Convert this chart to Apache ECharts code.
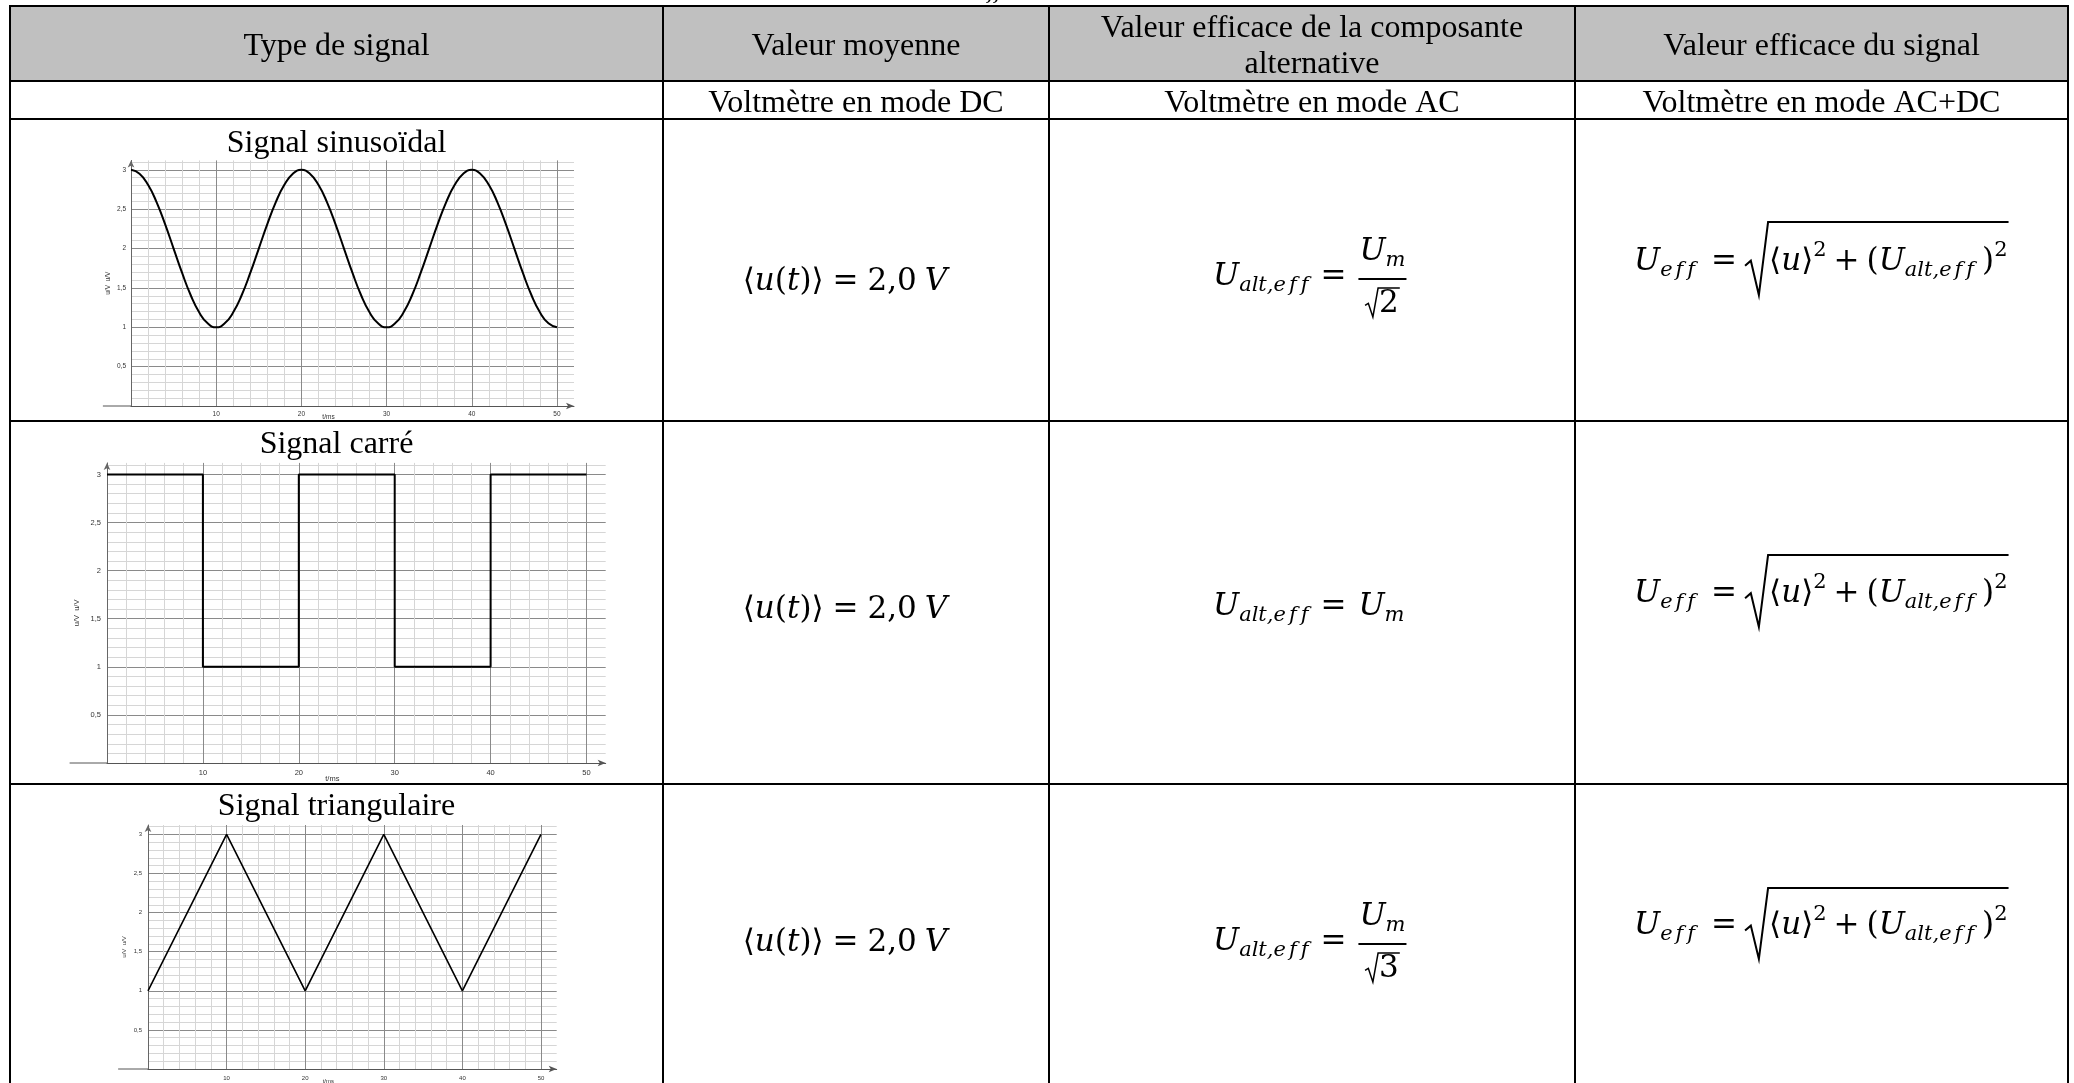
<!DOCTYPE html>
<html><head><meta charset="utf-8">
<script src="https://cdn.jsdelivr.net/npm/echarts@6/dist/echarts.min.js"></script>
<style>html,body{margin:0;padding:0;background:#fff;overflow:hidden}#c{width:2074px;height:1083px}</style>
</head><body><div id="c"></div>
<script>
// ---------- DATA ----------
const headers = ['Type de signal', 'Valeur moyenne', 'Valeur efficace de la composante\nalternative', 'Valeur efficace du signal'];
const modes = ['', 'Voltmètre en mode DC', 'Voltmètre en mode AC', 'Voltmètre en mode AC+DC'];
const titles = ['Signal sinusoïdal', 'Signal carré', 'Signal triangulaire'];
const xName = 't/ms';
const yName = 'u/V  u/V';

const sineT = [0,1,2,3,4,5,6,7,8,9,10,11,12,13,14,15,16,17,18,19,20,21,22,23,24,25,26,27,28,29,30,31,32,33,34,35,36,37,38,39,40,41,42,43,44,45,46,47,48,49,50];
const sineU = [3.00,2.95,2.81,2.59,2.31,2.00,1.69,1.41,1.19,1.05,1.00,1.05,1.19,1.41,1.69,2.00,2.31,2.59,2.81,2.95,
               3.00,2.95,2.81,2.59,2.31,2.00,1.69,1.41,1.19,1.05,1.00,1.05,1.19,1.41,1.69,2.00,2.31,2.59,2.81,2.95,
               3.00,2.95,2.81,2.59,2.31,2.00,1.69,1.41,1.19,1.05,1.00];
const squareT = [0,10,20,30,40,50];
const squareU = [3,1,3,1,3,3];
const triT = [0,10,20,30,40,50];
const triU = [1,3,1,3,1,3];

const xRange = [0, 52];
const yRange = [0, 3.12];

// ---------- LAYOUT ----------
const colX = [10, 663, 1049, 1575, 2068];
const rowY = [6, 81, 119, 421, 784];
const grids = [
  {left:131, top:160.4, width:443, height:245.6, fs:6.5, yGap:19, xGap:8, lm:5, ext:-3.3},
  {left:107, top:462.9, width:498.7, height:300.1, fs:7.5, yGap:26, xGap:12, lm:6, ext:-3.9},
  {left:148, top:825, width:408.7, height:244, fs:6, yGap:21, xGap:9, lm:6, ext:-3.8}
];
const titleY = [144, 445, 807];

const serif = 'Liberation Serif';
const FF = 'DejaVu Serif';
const M = 31, S = 21;

const mctx = document.createElement('canvas').getContext('2d');
function tw(t, size, it){ mctx.font = (it?'italic ':'') + size + 'px "' + FF + '"'; return mctx.measureText(t).width; }
function I(t){ return {t, i:true}; }
function R(t){ return {t}; }
function sub(t){ return {t, s:S, i:true, dy:9}; }
function sup(t){ return {t, s:S, dy:-11}; }
function runWidth(items){ let x=0; for (const it of items){ if (typeof it==='number') x+=it; else x+=tw(it.t, it.s||M, it.i);} return x; }
function run(items, x, y, out){
  for (const it of items){
    if (typeof it === 'number'){ x += it; continue; }
    const size = it.s || M;
    out.push({type:'text', z:60, x:x, y:y+(it.dy||0), style:{text:it.t, fontSize:size, fontFamily:FF, fontStyle:it.i?'italic':'normal', fill:'#000', align:'left', verticalAlign:'middle'}});
    x += tw(it.t, size, it.i);
  }
  return x;
}
function radical(x, yTop, yBot, wRad, wContent, out, lw){
  const h = yBot - yTop;
  const pts = [[x, yTop+h*0.60],[x+wRad*0.25, yTop+h*0.53],[x+wRad*0.6, yBot],[x+wRad, yTop],[x+wRad+wContent, yTop]];
  out.push({type:'polyline', z:60, shape:{points:pts}, style:{stroke:'#000', lineWidth:lw, fill:null}});
  return x + wRad;
}
const altEff = [sub('alt,e'), 3, sub('f'), 4, sub('f')];
const eff = [sub('e'), 3, sub('f'), 4, sub('f')];

function col2Formula(y, out){
  const items = [R('⟨'), I('u'), R('('), I('t'), R(')'), R('⟩'), 9, R('='), 9, R('2,0'), 8, I('V')];
  const wd = runWidth(items);
  run(items, 845 - wd/2, y, out);
}
function col3Fraction(y, den, out){
  let x = run([I('U')].concat(altEff, [12, R('='), 12]), 1213, y, out);
  const num = [I('U'), sub('m')];
  const wn = runWidth(num);
  const wDigit = tw(den, M, false);
  const wRad = 13;
  const wd = wRad + wDigit + 2;
  const fw = Math.max(wn, wd) + 2;
  const bar = y + 2;
  out.push({type:'line', z:60, shape:{x1:x, y1:bar, x2:x+fw, y2:bar}, style:{stroke:'#000', lineWidth:2}});
  run(num, x + (fw - wn)/2, bar - 27, out);
  const dx = x + (fw - wd)/2;
  const dy = bar + 24;
  const cx = radical(dx, dy - 15, dy + 14, wRad, wDigit + 2, out, 1.5);
  run([R(den)], cx + 1, dy + 1, out);
}
function col3Plain(y, out){
  run([I('U')].concat(altEff, [12, R('='), 12, I('U'), sub('m')]), 1213, y, out);
}
function col4Formula(y, top, bot, out){
  let x = run([I('U')].concat(eff, [16, R('='), 8]), 1634, y, out);
  const content = [R('⟨'), I('u'), R('⟩'), sup('2'), 7, R('+'), 7, R('('), I('U')].concat(altEff, [8, R(')'), sup('2')]);
  const wc = runWidth(content);
  const cx = radical(x, top, bot, 23, wc + 2, out, 2);
  run(content, cx + 1, y, out);
}

// ---------- GRAPHIC (table) ----------
const G = [];
G.push({type:'rect', z:1, shape:{x:colX[0], y:rowY[0], width:colX[4]-colX[0], height:rowY[1]-rowY[0]}, style:{fill:'#c0c0c0'}});
for (let i=0;i<4;i++){
  const cx = (colX[i]+colX[i+1])/2;
  G.push({type:'text', z:60, x:cx, y:i===2?47:47, style:{text:headers[i], fontSize:32, fontFamily:serif, fill:'#000', align:'center', verticalAlign:'middle', lineHeight:36}});
  if (modes[i]) G.push({type:'text', z:60, x:cx, y:104, style:{text:modes[i], fontSize:32, fontFamily:serif, fill:'#000', align:'center', verticalAlign:'middle'}});
}
titles.forEach((t,i)=>G.push({type:'text', z:60, x:(colX[0]+colX[1])/2, y:titleY[i], style:{text:t, fontSize:32, fontFamily:serif, fill:'#000', align:'center', verticalAlign:'middle'}}));
// clipped text above the table
G.push({type:'text', z:60, x:975, y:4, style:{text:'eff', fontSize:21, fontFamily:FF, fontStyle:'italic', fill:'#000', align:'left', verticalAlign:'bottom'}});

col2Formula(282, G); col2Formula(610, G); col2Formula(943, G);
col3Fraction(277, '2', G); col3Plain(607, G); col3Fraction(942, '3', G);
col4Formula(262, 222, 295, G); col4Formula(594, 555, 627, G); col4Formula(926, 888, 959, G);

colX.forEach(x=>G.push({type:'line', z:100, shape:{x1:x, y1:rowY[0]-1, x2:x, y2:1083}, style:{stroke:'#000', lineWidth:2}}));
rowY.forEach(y=>G.push({type:'line', z:100, shape:{x1:colX[0]-1, y1:y, x2:colX[4]+1, y2:y}, style:{stroke:'#000', lineWidth:2}}));

// ---------- CHART ----------
const seriesData = [
  sineT.map((t,i)=>[t, sineU[i]]),
  squareT.map((t,i)=>[t, squareU[i]]),
  triT.map((t,i)=>[t, triU[i]])
];
const commaFmt = v => String(v).replace('.', ',');

const option = {
  animation:false,
  backgroundColor:'#fff',
  grid: grids.map(g=>({left:g.left, top:g.top, width:g.width, height:g.height, containLabel:false, outerBoundsMode:'none'})),
  xAxis: grids.map((g,i)=>({
    type:'value', gridIndex:i, min:xRange[0], max:xRange[1], interval:10,
    name:xName, nameLocation:'middle', nameGap:g.xGap, nameMoveOverlap:false,
    nameTextStyle:{fontSize:g.fs, color:'#333', fontFamily:'Liberation Sans', padding:[0,48,0,0]},
    axisLine:{show:true, onZero:false, symbol:['none','arrow'], symbolSize:[5,8], lineStyle:{color:'#555', width:1}},
    axisTick:{show:false},
    axisLabel:{fontSize:g.fs, color:'#333', fontFamily:'Liberation Sans', margin:g.lm, showMinLabel:false, showMaxLabel:false},
    splitLine:{show:true, showMinLine:false, showMaxLine:false, lineStyle:{color:'#8a8a8a', width:1}},
    minorTick:{show:false, splitNumber:5},
    minorSplitLine:{show:true, lineStyle:{color:'#d6d6d6', width:1}}
  })),
  yAxis: grids.map((g,i)=>({
    type:'value', gridIndex:i, min:yRange[0], max:yRange[1], interval:0.5,
    name:yName, nameLocation:'middle', nameGap:g.yGap, nameMoveOverlap:false,
    nameTextStyle:{fontSize:g.fs, color:'#333', fontFamily:'Liberation Sans'},
    axisLine:{show:true, onZero:false, symbol:['none','arrow'], symbolSize:[5,7], lineStyle:{color:'#666', width:1}},
    axisTick:{show:false},
    axisLabel:{fontSize:g.fs, color:'#333', fontFamily:'Liberation Sans', margin:g.lm, showMinLabel:false, showMaxLabel:false, formatter:commaFmt},
    splitLine:{show:true, showMinLine:false, showMaxLine:false, lineStyle:{color:'#8a8a8a', width:1}},
    minorTick:{show:false, splitNumber:5},
    minorSplitLine:{show:true, lineStyle:{color:'#d6d6d6', width:1}}
  })),
  series: [
    {type:'line', xAxisIndex:0, yAxisIndex:0, data:seriesData[0], smooth:true, showSymbol:false, lineStyle:{color:'#000', width:2}, z:5},
    {type:'line', xAxisIndex:1, yAxisIndex:1, data:seriesData[1], step:'end', showSymbol:false, lineStyle:{color:'#000', width:2}, z:5},
    {type:'line', xAxisIndex:2, yAxisIndex:2, data:seriesData[2], showSymbol:false, lineStyle:{color:'#000', width:1.6}, z:5}
  ],
  graphic: G
};

const chart = echarts.init(document.getElementById('c'));
chart.setOption(option);
// extend each x axis line a little to the left of the origin
const ext = grids.map((g,i)=>{
  const a = chart.convertToPixel({gridIndex:i}, [g.ext, 0]);
  const b = chart.convertToPixel({gridIndex:i}, [0, 0]);
  return {type:'line', z:5, shape:{x1:a[0], y1:a[1], x2:b[0], y2:b[1]}, style:{stroke:'#555', lineWidth:1}};
});
chart.setOption({graphic: G.concat(ext)});
</script>
</body></html>
